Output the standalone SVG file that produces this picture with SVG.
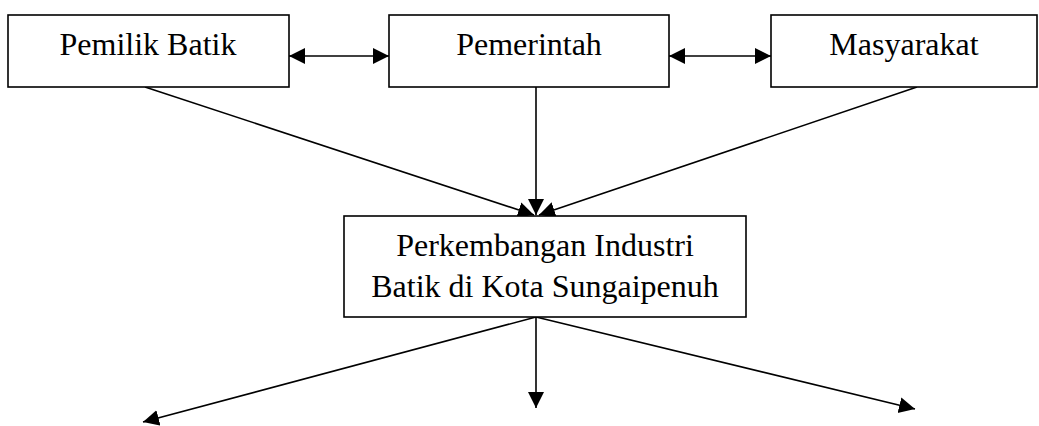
<svg xmlns="http://www.w3.org/2000/svg" width="1039" height="426" viewBox="0 0 1039 426">
<style>
.box{fill:#fff;stroke:#000;stroke-width:1.6}
.lbl{font-family:"Liberation Serif","Times New Roman",serif;font-size:32px;fill:#000;text-anchor:middle}
.con{stroke:#000;stroke-width:1.6;fill:none}
</style>
<defs>
<marker id="ah" markerUnits="userSpaceOnUse" markerWidth="17" markerHeight="17" refX="16" refY="8" orient="auto-start-reverse">
<path d="M0,0 L16,8 L0,16 z" fill="#000"/>
</marker>
</defs>
<rect width="1039" height="426" fill="#fff"/>
<g id="connectors">
<line class="con" x1="289" y1="56" x2="389" y2="56" marker-start="url(#ah)" marker-end="url(#ah)"/>
<line class="con" x1="669" y1="56" x2="771" y2="56" marker-start="url(#ah)" marker-end="url(#ah)"/>
<line class="con" x1="145" y1="87" x2="534" y2="215" marker-end="url(#ah)"/>
<line class="con" x1="536" y1="87" x2="536" y2="215" marker-end="url(#ah)"/>
<line class="con" x1="917" y1="87" x2="539" y2="215" marker-end="url(#ah)"/>
<line class="con" x1="536" y1="317" x2="143" y2="422" marker-end="url(#ah)"/>
<line class="con" x1="536" y1="317" x2="536" y2="408" marker-end="url(#ah)"/>
<line class="con" x1="536" y1="317" x2="915" y2="409" marker-end="url(#ah)"/>
</g>
<g id="pemilik">
<rect class="box" x="8" y="15" width="281" height="72"/>
<text class="lbl" x="148" y="55">Pemilik Batik</text>
</g>
<g id="pemerintah">
<rect class="box" x="389" y="15" width="280" height="72"/>
<text class="lbl" x="529" y="55">Pemerintah</text>
</g>
<g id="masyarakat">
<rect class="box" x="771" y="15" width="266" height="72"/>
<text class="lbl" x="904" y="55">Masyarakat</text>
</g>
<g id="perkembangan">
<rect class="box" x="344" y="216" width="402" height="101"/>
<text class="lbl" x="545" y="256">Perkembangan Industri</text>
<text class="lbl" x="545" y="297">Batik di Kota Sungaipenuh</text>
</g>
</svg>
